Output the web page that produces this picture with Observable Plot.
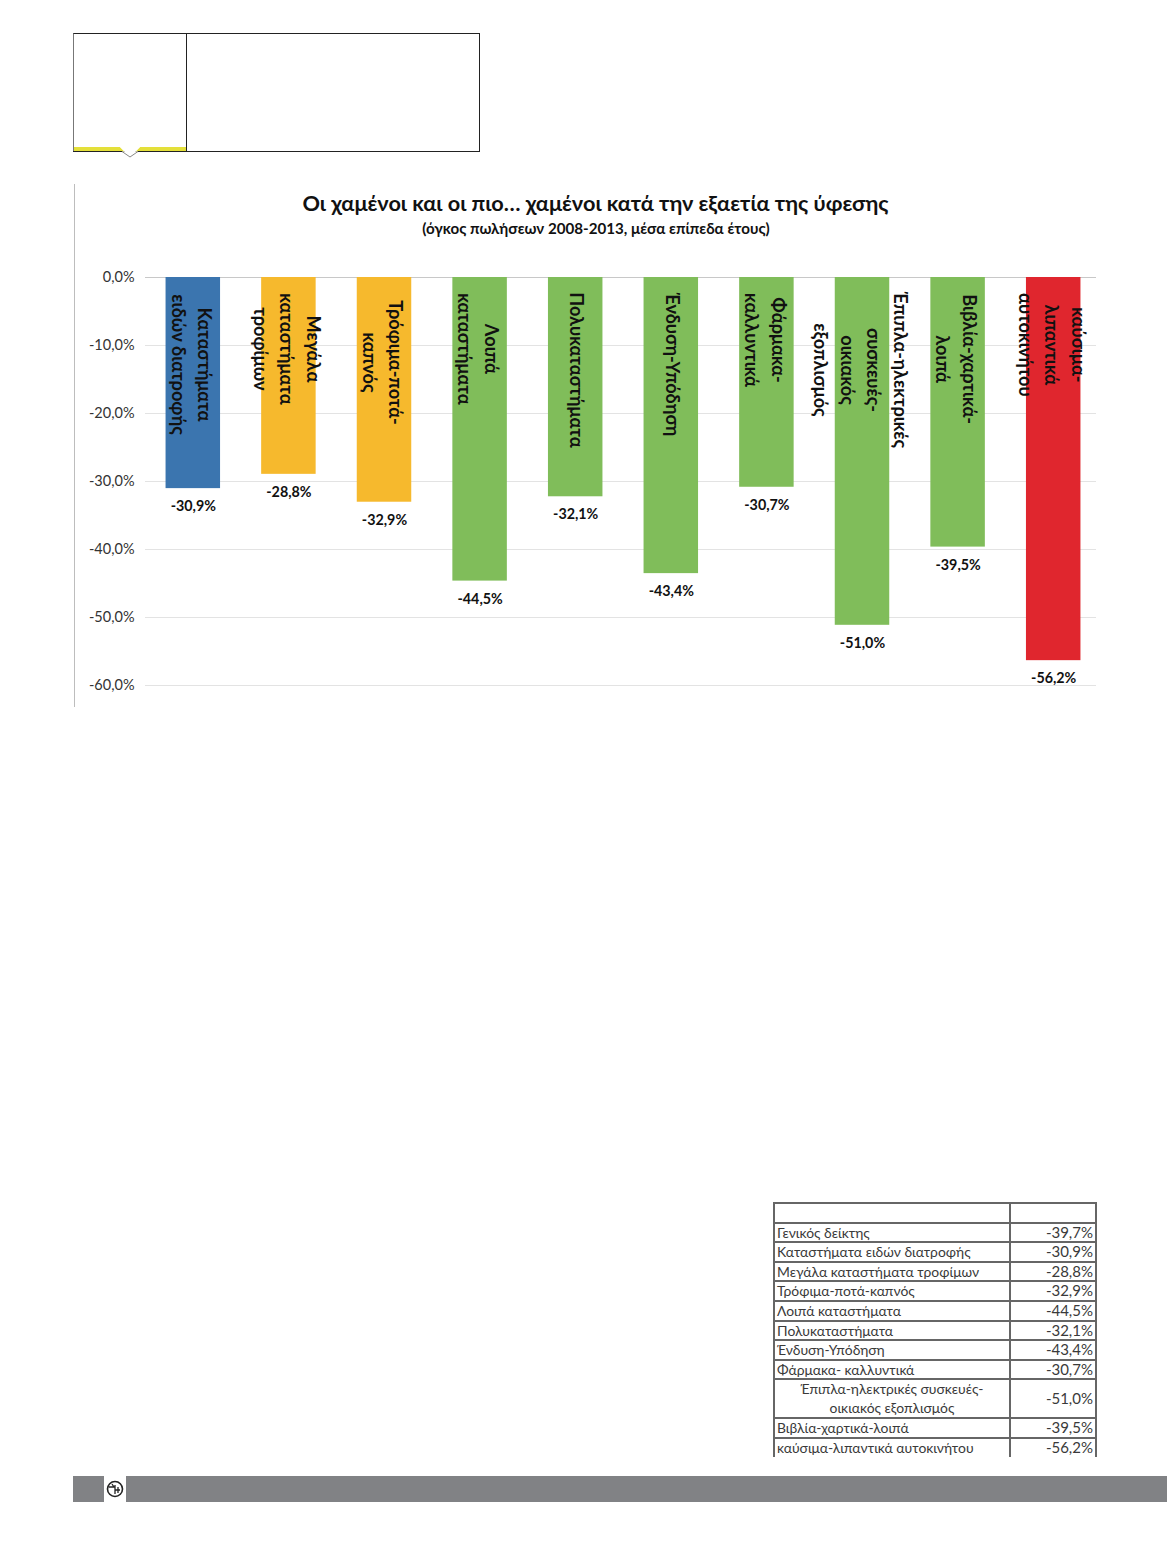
<!DOCTYPE html>
<html lang="el">
<head>
<meta charset="utf-8">
<script src="https://cdn.jsdelivr.net/npm/d3@7"></script>
<script src="https://cdn.jsdelivr.net/npm/@observablehq/plot@0.6"></script>
<style>
html,body{margin:0;padding:0;background:#fff;}
#page{position:relative;width:1167px;height:1543px;overflow:hidden;font-family:Lato,"Open Sans",sans-serif;}
#page>*{position:absolute;}
#chart{left:0;top:0;}
#title{left:0;width:1191px;top:189px;text-align:center;font-size:21.7px;font-weight:700;line-height:28px;color:#111;}
#subtitle{left:0;width:1192px;top:219px;text-align:center;font-size:15.15px;font-weight:700;line-height:18px;color:#111;}
#frame{left:74px;top:184px;width:1px;height:523px;background:#bdbdbd;}
#box{left:0;top:0;}
#barA{left:73px;top:1476px;width:31px;height:26px;background:#818285;}
#barB{left:126px;top:1476px;width:1041px;height:26px;background:#818285;}
#globe{left:105px;top:1479px;}
table{left:773px;top:1202px;width:322px;border-collapse:collapse;table-layout:fixed;color:#3a3a3a;}
td{border:2px solid #666;padding:0 2px;height:17.6px;line-height:17.6px;white-space:nowrap;overflow:hidden;font-size:13.9px;}
td:nth-child(2){text-align:right;width:80px;font-size:15px;padding-right:2px;}
td:nth-child(1){width:230px;}
tr:last-child td{border-bottom:none;}
td.center{text-align:center;white-space:pre-line;line-height:18.5px;}
</style>
</head>
<body>
<div id="page">
  <svg id="box" width="500" height="170">
    <rect x="73.5" y="33.5" width="406" height="118" fill="#fff" stroke="#222"/>
    <line x1="73.5" y1="33.5" x2="73.5" y2="151" stroke="#777"/>
    <line x1="186.5" y1="33.5" x2="186.5" y2="151.5" stroke="#222"/>
    <path d="M74 147H120L130 157L140 147H186V151.5H74Z" fill="#e4e03a" stroke="none"/>
    <path d="M120 147L130 157L140 147Z" fill="#fff"/>
    <path d="M122 151.5L130 157L138 151.5" fill="#fff" stroke="#888" stroke-width="1"/>
    <line x1="73" y1="151.5" x2="122" y2="151.5" stroke="#222"/>
    <line x1="138" y1="151.5" x2="187" y2="151.5" stroke="#222"/>
  </svg>
  <div id="frame"></div>
  <div id="chart"></div>
  <div id="title">Οι χαμένοι και οι πιο… χαμένοι κατά την εξαετία της ύφεσης</div>
  <div id="subtitle">(όγκος πωλήσεων 2008-2013, μέσα επίπεδα έτους)</div>
  <table id="tbl"></table>
  <div id="barA"></div>
  <svg id="globe" width="20" height="20" viewBox="0 0 20 20">
    <circle cx="10" cy="10" r="7.5" fill="#fff" stroke="#222" stroke-width="1.6"/>
    <path d="M4 8H10V15M10 6V11H15M7 5L9 8M13 8V14" fill="none" stroke="#222" stroke-width="1.3"/>
  </svg>
  <div id="barB"></div>
</div>
<script>
const categories = ["Καταστήματα\nειδών διατροφής","Μεγάλα\nκαταστήματα\nτροφίμων","Τρόφιμα-ποτά-\nκαπνός","Λοιπά\nκαταστήματα","Πολυκαταστήματα","Ένδυση-Υπόδηση","Φάρμακα-\nκαλλυντικά","Έπιπλα-ηλεκτρικές\nσυσκευές-\nοικιακός\nεξοπλισμός","Βιβλία-χαρτικά-\nλοιπά","καύσιμα-\nλιπαντικά\nαυτοκινήτου"];
const values = [-30.9,-28.8,-32.9,-44.5,-32.1,-43.4,-30.7,-51.0,-39.5,-56.2];
const groups = ["food","large","fmcg","other","other","other","other","other","other","fuel"];
const groupNames = ["food","large","fmcg","other","fuel"];
const groupColors = ["#3b75af","#f6b92d","#f6b92d","#80bd5a","#e0262e"];
const labelCenters = [-12.8,-10.5,-12.5,-10.5,-13.6,-12.8,-9.2,-13.6,-12.0,-9.9];
const yTicks = [0,-10,-20,-30,-40,-50,-60];
const tableLabels = ["Γενικός δείκτης","Καταστήματα ειδών διατροφής","Μεγάλα καταστήματα τροφίμων","Τρόφιμα-ποτά-καπνός","Λοιπά καταστήματα","Πολυκαταστήματα","Ένδυση-Υπόδηση","Φάρμακα- καλλυντικά","Έπιπλα-ηλεκτρικές συσκευές-\nοικιακός εξοπλισμός","Βιβλία-χαρτικά-λοιπά","καύσιμα-λιπαντικά αυτοκινήτου"];
const tableValues = [-39.7,-30.9,-28.8,-32.9,-44.5,-32.1,-43.4,-30.7,-51.0,-39.5,-56.2];

const fmt = v => v.toFixed(1).replace(".", ",") + "%";
const rows = categories.map((c,i)=>({c,v:values[i],g:groups[i],m:labelCenters[i]}));
const labelStyle = {x:"c",y:"m",text:"c",rotate:90,fontSize:18.2,fontWeight:700,lineHeight:1.45,fill:"#111",textAnchor:"middle",lineAnchor:"middle"};

const chart = Plot.plot({
  width:1167, height:720,
  marginLeft:145, marginRight:66, marginTop:277, marginBottom:35,
  style:{fontFamily:'Lato,"Open Sans",sans-serif',background:"transparent"},
  x:{domain:categories,paddingInner:0.43,paddingOuter:0.215,round:false,axis:null},
  y:{domain:[-60,0],axis:null},
  color:{domain:groupNames,range:groupColors},
  marks:[
    Plot.ruleY(yTicks,{stroke:"#e3e3e3",strokeWidth:1,insetRight:5}),
    Plot.ruleY([0],{stroke:"#c8c8c8",strokeWidth:1,insetRight:5}),
    Plot.axisY({ticks:yTicks,tickSize:0,tickPadding:11,tickFormat:fmt,fontSize:14.5,color:"#333",label:null}),
    Plot.barY(rows,{x:"c",y:"v",fill:"g",insetBottom:-1}),
    Plot.text(rows.filter(d=>d.c.includes("\n")),{...labelStyle,dx:0}),
    Plot.text(rows.filter(d=>!d.c.includes("\n")),{...labelStyle,dx:3}),
    Plot.text(rows,{x:"c",y:"v",text:d=>fmt(d.v),dy:19,fontSize:14.3,fontWeight:700,fill:"#111"})
  ]
});
document.getElementById("chart").appendChild(chart);

const tbl = d3.select("#tbl");
const r0 = tbl.append("tr"); r0.append("td").html("&nbsp;"); r0.append("td").html("&nbsp;");
tableLabels.forEach((l,i)=>{
  const r = tbl.append("tr");
  const td = r.append("td").text(l);
  if(l.includes("\n")) td.classed("center",true);
  r.append("td").text(fmt(tableValues[i]));
});
</script>
</body>
</html>
